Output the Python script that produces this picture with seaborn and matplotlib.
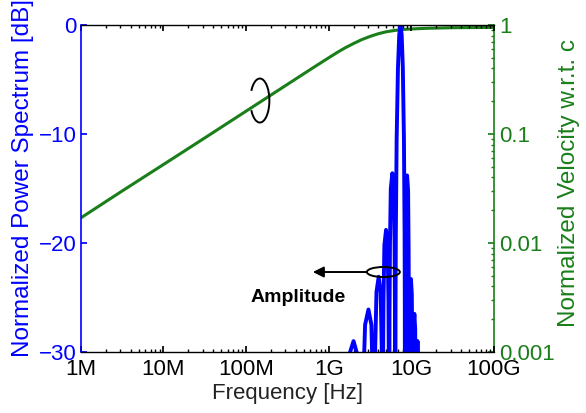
import numpy as np
import pandas as pd
import matplotlib
matplotlib.use("Agg")
import matplotlib.pyplot as plt
from matplotlib.patches import Arc, Ellipse
import seaborn as sns

# --- data ---
# normalized power spectrum (left axis, dB), frequency in GHz
spec_ghz = [1.5, 1.55, 1.62, 1.75, 2.0, 2.25, 2.38, 2.45,
            2.5, 2.55, 2.63, 2.76, 3.03, 3.29, 3.42, 3.5,
            3.55, 3.60, 3.66, 3.79, 4.03, 4.26, 4.39, 4.45,
            4.5, 4.545, 4.61, 4.725, 4.95, 5.175, 5.29, 5.355,
            5.4, 5.45, 5.52, 5.65, 5.9, 6.15, 6.28, 6.35,
            6.4, 6.45, 6.5, 6.65, 6.9, 7.15, 7.4, 7.65, 7.9, 8.15, 8.3, 8.35,
            8.4, 8.45, 8.52, 8.65, 8.9, 9.15, 9.28, 9.35,
            9.4, 9.45, 9.52, 9.65, 9.9, 10.15, 10.28, 10.35,
            10.4, 10.45, 10.52, 10.65, 10.9, 11.15, 11.28, 11.35,
            11.4, 11.45, 11.52, 11.65, 11.9, 12.15, 12.28, 12.35, 12.4]
spec_db = [-45, -42, -35.5, -30.4, -29.0, -30.4, -35.5, -42,
           -45, -39.1, -32.6, -27.5, -26.1, -27.5, -32.6, -39.1,
           -45, -36.1, -29.6, -24.5, -23.1, -24.5, -29.6, -36.1,
           -45, -31.8, -25.3, -20.2, -18.8, -20.2, -25.3, -31.8,
           -45, -26.6, -20.1, -15.0, -13.6, -15.0, -20.1, -26.6,
           -45, -25.6, -19.2, -10.5, -3.9, -0.9, 0.0, -0.9, -3.9, -10.5, -19.2, -25.6,
           -45, -26.8, -20.3, -15.2, -13.8, -15.2, -20.3, -26.8,
           -45, -36.3, -29.8, -24.7, -23.3, -24.7, -29.8, -36.3,
           -45, -39.5, -33.0, -27.9, -26.5, -27.9, -33.0, -39.5,
           -45, -42, -35.5, -30.4, -29.0, -30.4, -35.5, -42, -45]

# normalized velocity w.r.t. c (right axis, log)
vel_hz = [1e6, 3.16e6, 1e7, 3.16e7, 1e8, 3.16e8, 6.3e8, 1e9, 1.26e9, 1.58e9,
          2e9, 2.5e9, 3.16e9, 4e9, 5e9, 6.3e9, 7.9e9, 1e10, 1.58e10, 3.16e10, 1e11]
vel = [0.017, 0.030, 0.0525, 0.092, 0.162, 0.285, 0.40, 0.50, 0.558, 0.617,
       0.676, 0.733, 0.785, 0.832, 0.867, 0.891, 0.908, 0.92, 0.933, 0.944, 0.95]

x_ticks = [1e6, 1e7, 1e8, 1e9, 1e10, 1e11]
x_labels = ["1M", "10M", "100M", "1G", "10G", "100G"]
left_ticks = [-30, -20, -10, 0]
right_ticks = [1e-3, 1e-2, 1e-1, 1]
right_labels = ["0.001", "0.01", "0.1", "1"]

spec = pd.DataFrame({"f": np.array(spec_ghz) * 1e9, "db": spec_db})
velo = pd.DataFrame({"f": vel_hz, "v": vel})

BLUE = "#0000ff"
GREEN = "#1a7f1a"

sns.set_theme(style="white")
plt.rcParams["font.family"] = ["Liberation Sans", "DejaVu Sans"]

fig = plt.figure(figsize=(5.86, 4.13), dpi=100)
ax = fig.add_axes([0.138, 0.1477, 0.7048, 0.7918])
ax2 = ax.twinx()

sns.lineplot(data=spec, x="f", y="db", ax=ax, color=BLUE, lw=2.8,
             estimator=None, sort=False)
sns.lineplot(data=velo, x="f", y="v", ax=ax2, color=GREEN, lw=2.2,
             estimator=None, sort=False)

ax.set_xscale("log")
ax.set_xlim(1e6, 1e11)
ax.set_ylim(-30, 0)
ax2.set_yscale("log")
ax2.set_ylim(1e-3, 1)

ax.set_xticks(x_ticks)
ax.set_xticklabels(x_labels)
ax.set_yticks(left_ticks)
ax2.set_yticks(right_ticks)
ax2.set_yticklabels(right_labels)

# left axis drawn above the right one (blue over green)
ax.set_zorder(2)
ax2.set_zorder(1)
ax.patch.set_visible(False)

for s in ["top", "bottom"]:
    ax.spines[s].set_color("black")
    ax.spines[s].set_linewidth(1.0)
ax.spines["left"].set_color(BLUE)
ax.spines["left"].set_linewidth(1.2)
ax.spines["right"].set_visible(False)
for s in ["left", "top", "bottom"]:
    ax2.spines[s].set_visible(False)
ax2.spines["right"].set_color(GREEN)
ax2.spines["right"].set_linewidth(1.2)

ax.tick_params(axis="x", which="both", direction="in", top=True, bottom=True,
               labelsize=16, pad=5, colors="black")
ax.tick_params(axis="x", which="major", length=4)
ax.tick_params(axis="x", which="minor", length=2)
ax.tick_params(axis="y", which="both", direction="in", left=True, right=False,
               labelsize=16, pad=3, length=4, colors=BLUE)
ax2.tick_params(axis="y", which="both", direction="in", right=True, left=False,
                labelsize=16, pad=4, colors=GREEN)
ax2.tick_params(axis="y", which="major", length=4)
ax2.tick_params(axis="y", which="minor", length=2)

ax.set_xlabel("Frequency [Hz]", fontsize=16, color="#222222", labelpad=2)
ax.set_ylabel("Normalized Power Spectrum [dB]", fontsize=17.5, color=BLUE)
ax.yaxis.set_label_coords(-0.114, 0.532)
ax2.set_ylabel("Normalized Velocity w.r.t. c", fontsize=17.5, color=GREEN)
ax2.yaxis.set_label_coords(1.155, 0.517)

# annotations
ax.add_patch(Arc((0.4334, 0.769), 0.046, 0.1346, theta1=-125, theta2=125,
                 transform=ax.transAxes, color="black", lw=1.4, zorder=5))
ax.add_patch(Ellipse((0.7324, 0.2446), 0.0799, 0.0306, transform=ax.transAxes,
                     fill=False, edgecolor="black", lw=1.4, zorder=5))
ax.annotate("", xy=(0.5617, 0.2446), xytext=(0.6925, 0.2446),
            xycoords="axes fraction", textcoords="axes fraction",
            arrowprops=dict(arrowstyle="-|>", color="black", lw=1.4,
                            mutation_scale=16, shrinkA=0, shrinkB=0))
ax.text(0.525, 0.168, "Amplitude", transform=ax.transAxes, fontsize=14,
        fontweight="bold", ha="center", va="center", color="black")

fig.savefig("out.png", dpi=100)
